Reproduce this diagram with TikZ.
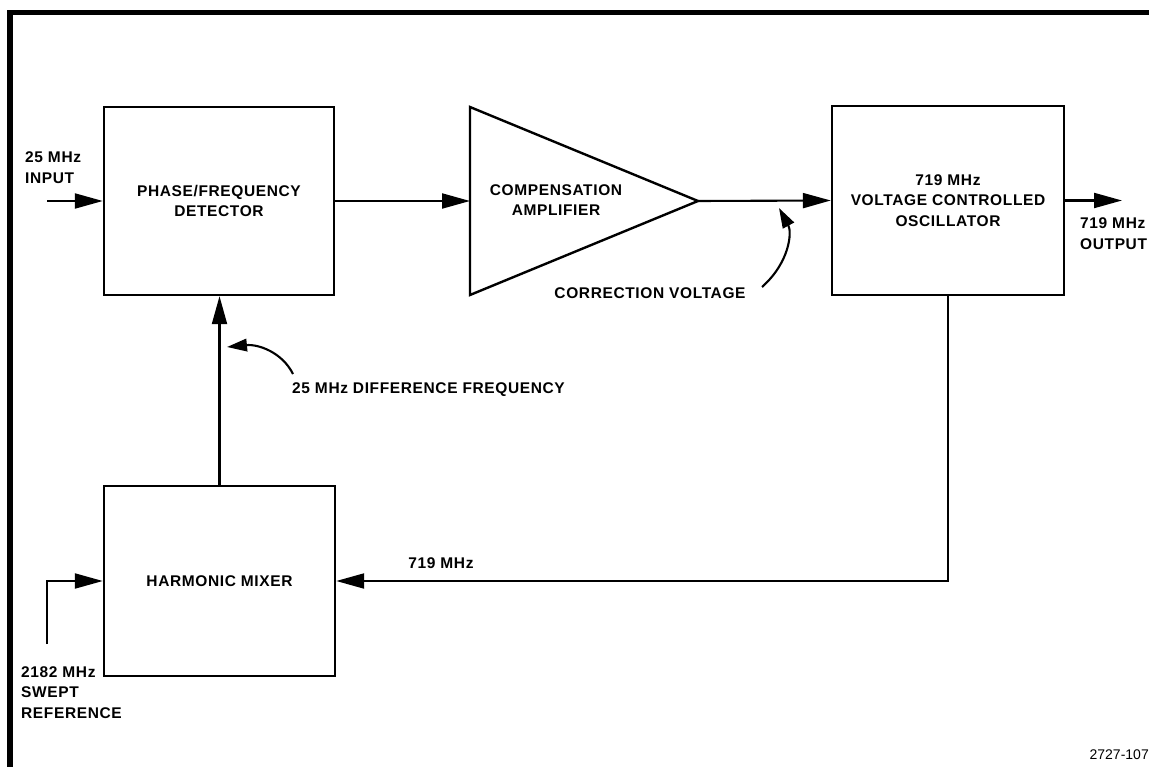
\documentclass[tikz,border=0pt]{standalone}
\usepackage{fontspec}
\setmainfont{Liberation Sans}
\newfontfamily\lblfont[LetterSpace=4]{Liberation Sans}
\usetikzlibrary{arrows.meta}
\begin{document}
\begin{tikzpicture}[x=1pt,y=-1pt,
  lbl/.style={font=\lblfont\bfseries\fontsize{15.5}{20.5}\selectfont, inner sep=0pt, align=center},
  blk/.style={draw, line width=2.4pt, inner sep=0pt, lbl},
  sig/.style={line width=2.1pt},
  bigtip/.style={-{Triangle[length=28pt,width=15pt]}},
  smalltip/.style={-{Triangle[length=20pt,width=12.5pt]}}]
\useasboundingbox (0,0) rectangle (1149,767);
% frame
\draw[line width=5.5pt] (10,767) -- (10,12.5) -- (1149,12.5);
% blocks
\node[blk, minimum width=230pt, minimum height=188pt] (pfd) at (219,201) {PHASE/FREQUENCY\\DETECTOR};
\draw[line width=2.4pt, line join=miter] (470,107) -- (698,201) -- (470,295) -- cycle;
\coordinate (ampin) at (470,201);
\coordinate (ampout) at (698,201);
\node[lbl] (amptxt) at (556,200) {COMPENSATION\\AMPLIFIER};
\node[blk, minimum width=232pt, minimum height=189pt] (vco) at (948,200.5) {719 MHz\\VOLTAGE CONTROLLED\\OSCILLATOR};
\node[blk, minimum width=231pt, minimum height=190pt] (hm) at (219.5,581) {HARMONIC MIXER};
% connectors
\coordinate (inp) at (47,201);
\coordinate (outp) at (1122,200.5);
\coordinate (swp) at (47,644);
\draw[sig, bigtip] (inp) -- (pfd.west);
\draw[sig, bigtip] (pfd.east) -- (ampin);
\draw[sig, bigtip] (ampout) -- (vco.west);
\draw[sig, bigtip] (vco.east) -- (outp);
\draw[sig, bigtip] (vco.south) |- (hm.east);
\draw[sig, bigtip] (hm.north) -- (hm.north |- pfd.south);
\draw[sig, bigtip] (swp) |- (hm.west);
% pointer curves
\coordinate (cvs) at (762,287);
\coordinate (cve) at (779,208);
\draw[sig, smalltip] (cvs) .. controls (790,262) and (792,232) .. (cve);
\coordinate (dfs) at (293,374);
\coordinate (dfe) at (227,347);
\draw[sig, smalltip] (dfs) .. controls (282,352) and (258,344) .. (dfe);
% labels
\node[lbl, anchor=west, align=left] (inlbl) at (25,167.5) {25 MHz\\INPUT};
\node[lbl, anchor=west, align=left] (outlbl) at (1080,233.5) {719 MHz\\OUTPUT};
\node[lbl, anchor=west, align=left] (swlbl) at (21,692.5) {2182 MHz\\SWEPT\\REFERENCE};
\node[lbl] (fblbl) at (441,563) {719 MHz};
\node[lbl] (cvlbl) at (650,293) {CORRECTION VOLTAGE};
\node[lbl, anchor=west] (dflbl) at (292,390) {25 MHz DIFFERENCE FREQUENCY};
\node[font=\fontsize{14}{16}\selectfont, inner sep=0pt, anchor=east] (fig) at (1149,755) {2727-107};
\end{tikzpicture}
\end{document}
